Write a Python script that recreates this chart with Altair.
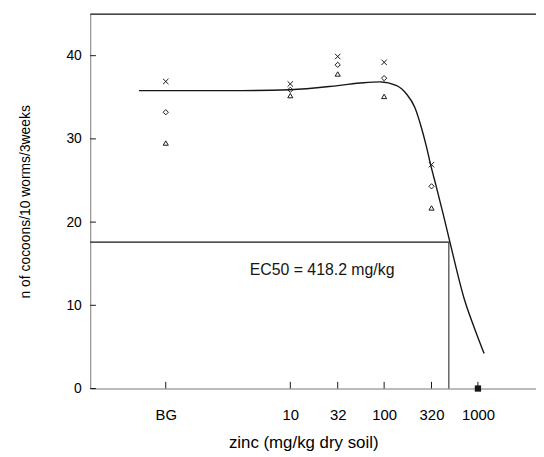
import altair as alt
import pandas as pd

# ---- data ----
tick_values = [0.47, 10, 32, 100, 320, 1000]
tick_labels = ["BG", "10", "32", "100", "320", "1000"]
y_ticks = [0, 10, 20, 30, 40]

pt_x = [0.47, 10, 32, 100, 320]
cross_y = [36.9, 36.6, 39.9, 39.2, 26.9]
diamond_y = [33.2, 35.9, 38.9, 37.3, 24.3]
triangle_y = [29.5, 35.2, 37.8, 35.1, 21.7]

zero_x = [1000]
zero_y = [0]

curve_x = [0.244, 1, 3, 10, 32, 60, 90, 136, 173, 212, 249, 282, 313, 359, 423, 505, 715, 950, 1164]
curve_y = [35.8, 35.8, 35.8, 35.9, 36.4, 36.75, 36.85, 36.4, 35.4, 33.8, 31.4, 29.1, 26.9, 24.3, 21.1, 17.5, 10.75, 6.8, 4.2]

ec50_level = [17.6]
ec50_x = [490]
ec50_text = ["EC50 = 418.2 mg/kg"]
ec50_text_pos = [(3.69, 13.6)]

X_DOMAIN = [0.0736, 4159]
Y_DOMAIN = [0, 45]
FONT = "Liberation Sans"
INK = "#161616"

xs = alt.Scale(type="log", domain=X_DOMAIN, nice=False)
ys = alt.Scale(domain=Y_DOMAIN, nice=False, zero=False)

label_map = "{" + ",".join(f"'{v}':'{l}'" for v, l in zip(tick_values, tick_labels)) + "}"

x_axis = alt.Axis(
    values=tick_values,
    labelExpr=f"{label_map}[datum.value + ''] || datum.label",
    ticks=False, grid=False, labelPadding=19, labelFontSize=15,
    title="zinc (mg/kg dry soil)", titleFontSize=17, titleFontWeight="normal",
    titleX=215, titleY=60, titleBaseline="alphabetic", titleAnchor="start", titleAlign="center",
)
y_axis = alt.Axis(
    values=y_ticks, ticks=False, grid=False, labelPadding=9, labelFontSize=14,
    title="n of cocoons/10 worms/3weeks", titleFontSize=14, titleFontWeight="normal",
    titleX=-65, titleY=189, titleBaseline="middle", titleAnchor="start", titleAlign="center",
)

# base axis layer (invisible points just to carry the axes)
axis_df = pd.DataFrame({"x": tick_values, "y": [0] * len(tick_values)})
axes = alt.Chart(axis_df).mark_point(opacity=0).encode(
    x=alt.X("x:Q", scale=xs, axis=x_axis),
    y=alt.Y("y:Q", scale=ys, axis=y_axis),
)

# fitted curve
curve_df = pd.DataFrame({"x": curve_x, "y": curve_y})
curve = alt.Chart(curve_df).mark_line(color=INK, strokeWidth=1.4, interpolate="monotone").encode(
    x=alt.X("x:Q", scale=xs), y=alt.Y("y:Q", scale=ys)
)

# observations
obs_df = pd.DataFrame({
    "x": pt_x * 3,
    "y": cross_y + diamond_y + triangle_y,
    "s": ["cross"] * 5 + ["diamond"] * 5 + ["triangle"] * 5,
})
shape_scale = alt.Scale(
    domain=["cross", "diamond", "triangle"],
    range=["M-1,-1L1,1M-1,1L1,-1", "diamond", "triangle-up"],
)
size_scale = alt.Scale(domain=["cross", "diamond", "triangle"], range=[30, 26, 30])
obs = alt.Chart(obs_df).mark_point(filled=False, color=INK, strokeWidth=1, opacity=1).encode(
    x=alt.X("x:Q", scale=xs), y=alt.Y("y:Q", scale=ys),
    shape=alt.Shape("s:N", scale=shape_scale, legend=None),
    size=alt.Size("s:N", scale=size_scale, legend=None),
)

zero_df = pd.DataFrame({"x": zero_x, "y": zero_y})
zero = alt.Chart(zero_df).mark_point(shape="square", filled=True, color=INK, size=40, opacity=1).encode(
    x=alt.X("x:Q", scale=xs), y=alt.Y("y:Q", scale=ys)
)

# EC50 construction lines
h_df = pd.DataFrame({"x": [X_DOMAIN[0]], "x2": ec50_x, "y": ec50_level})
hline = alt.Chart(h_df).mark_rule(color=INK, strokeWidth=1.2).encode(
    x=alt.X("x:Q", scale=xs), x2="x2:Q", y=alt.Y("y:Q", scale=ys)
)
v_df = pd.DataFrame({"x": ec50_x, "y": [0], "y2": ec50_level})
vline = alt.Chart(v_df).mark_rule(color=INK, strokeWidth=1).encode(
    x=alt.X("x:Q", scale=xs), y=alt.Y("y:Q", scale=ys), y2="y2:Q"
)

t_df = pd.DataFrame({"x": [ec50_text_pos[0][0]], "y": [ec50_text_pos[0][1]], "t": ec50_text})
label = alt.Chart(t_df).mark_text(
    align="left", baseline="alphabetic", fontSize=16, font=FONT, color=INK
).encode(x=alt.X("x:Q", scale=xs), y=alt.Y("y:Q", scale=ys), text="t:N")

# top frame line
top_df = pd.DataFrame({"x": [X_DOMAIN[0]], "x2": [X_DOMAIN[1]], "y": [Y_DOMAIN[1]]})
top = alt.Chart(top_df).mark_rule(color=INK, strokeWidth=1.3).encode(
    x=alt.X("x:Q", scale=xs), x2="x2:Q", y=alt.Y("y:Q", scale=ys)
)

# inward ticks
xt_df = pd.DataFrame({"x": tick_values, "y": [0] * 6, "y2": [0.8] * 6})
xticks = alt.Chart(xt_df).mark_rule(color=INK, strokeWidth=1).encode(
    x=alt.X("x:Q", scale=xs), y=alt.Y("y:Q", scale=ys), y2="y2:Q"
)
yt_df = pd.DataFrame({"y": y_ticks, "x": [X_DOMAIN[0]] * 5, "x2": [X_DOMAIN[0] * 1.15] * 5})
yticks = alt.Chart(yt_df).mark_rule(color=INK, strokeWidth=1).encode(
    y=alt.Y("y:Q", scale=ys), x=alt.X("x:Q", scale=xs), x2="x2:Q"
)

chart = alt.layer(axes, top, hline, vline, curve, obs, zero, label, xticks, yticks).properties(
    width=450, height=378,
    autosize=alt.AutoSizeParams(type="none"),
    padding={"left": 83, "top": 4, "right": 0, "bottom": 67},
).configure_view(stroke=None).configure_axis(
    domainColor=INK, domainWidth=1.3, labelColor=INK, titleColor=INK,
    labelFont=FONT, titleFont=FONT,
).configure(background="white")

chart.save("out.html", embed_options={"renderer": "svg", "actions": False})
